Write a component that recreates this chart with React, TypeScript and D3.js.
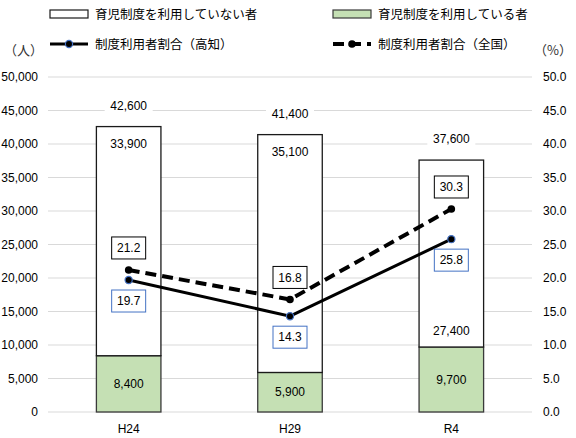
import React, { useRef, useEffect } from 'react';
import * as d3 from 'd3';

// survey years
const categories = ['H24', 'H29', 'R4'];
// total workers (bar height) and the two groups
const totals = [42600, 41400, 37600];
const notUsing = [33900, 35100, 27400];
const using = [8400, 5900, 9700];
// usage rate (%)
const rateKochi = [19.7, 14.3, 25.8];
const rateNational = [21.2, 16.8, 30.3];

const leftTicks = d3.range(0, 50001, 5000);
const rightTicks = d3.range(0, 51, 5);

const legendLabels = [
  '育児制度を利用していない者',
  '育児制度を利用している者',
  '制度利用者割合（高知）',
  '制度利用者割合（全国）',
];

const NUM_FONT = '"Liberation Sans", Arial, sans-serif';
const JP_FONT = '"Noto Sans CJK JP", sans-serif';
const GREEN = '#c5e0b4';
const BLUE = '#4472c4';

const App: React.FC = () => {
  const svgRef = useRef<SVGSVGElement | null>(null);

  useEffect(() => {
    if (!svgRef.current) return;
    d3.select(svgRef.current).selectAll('*').remove();

    const width = 576;
    const height = 438;
    const svg = d3.select(svgRef.current).attr('width', width).attr('height', height);

    const x = d3
      .scaleBand<string>()
      .domain(categories)
      .range([48, 532])
      .paddingInner(0.6)
      .paddingOuter(0.3);
    const y = d3.scaleLinear().domain([0, 50000]).range([412, 77]);
    const yR = d3.scaleLinear().domain([0, 50]).range([412, 77]);
    const cx = (c: string) => (x(c) as number) + x.bandwidth() / 2;
    const fmt = d3.format(',');

    // gridlines
    svg
      .append('g')
      .selectAll('line')
      .data(leftTicks)
      .join('line')
      .attr('x1', 48)
      .attr('x2', 532)
      .attr('y1', (d) => y(d))
      .attr('y2', (d) => y(d))
      .attr('stroke', '#d9d9d9')
      .attr('stroke-width', 1);

    // left axis labels
    svg
      .append('g')
      .selectAll('text')
      .data(leftTicks)
      .join('text')
      .attr('x', 38)
      .attr('y', (d) => y(d))
      .attr('dy', '0.35em')
      .attr('text-anchor', 'end')
      .attr('font-family', NUM_FONT)
      .attr('font-size', 12)
      .attr('fill', '#000')
      .text((d) => fmt(d));

    // right axis labels
    svg
      .append('g')
      .selectAll('text')
      .data(rightTicks)
      .join('text')
      .attr('x', 543)
      .attr('y', (d) => yR(d))
      .attr('dy', '0.35em')
      .attr('font-family', NUM_FONT)
      .attr('font-size', 12)
      .attr('fill', '#000')
      .text((d) => d.toFixed(1));

    // unit labels
    svg
      .append('text')
      .attr('x', 4)
      .attr('y', 55)
      .attr('font-family', JP_FONT)
      .attr('font-size', 13)
      .attr('fill', '#333')
      .text('（人）');
    svg
      .append('text')
      .attr('x', 572)
      .attr('y', 55)
      .attr('text-anchor', 'end')
      .attr('font-family', JP_FONT)
      .attr('font-size', 13)
      .attr('fill', '#333')
      .text('（%）');

    // bars
    const bars = svg.append('g');
    bars
      .selectAll('rect.using')
      .data(categories)
      .join('rect')
      .attr('class', 'using')
      .attr('x', (d) => x(d) as number)
      .attr('width', x.bandwidth())
      .attr('y', (_, i) => y(using[i]))
      .attr('height', (_, i) => y(0) - y(using[i]))
      .attr('fill', GREEN)
      .attr('stroke', '#3a3a3a')
      .attr('stroke-width', 1.3);
    bars
      .selectAll('rect.not')
      .data(categories)
      .join('rect')
      .attr('class', 'not')
      .attr('x', (d) => x(d) as number)
      .attr('width', x.bandwidth())
      .attr('y', (_, i) => y(totals[i]))
      .attr('height', (_, i) => y(using[i]) - y(totals[i]))
      .attr('fill', '#fff')
      .attr('stroke', '#1a1a1a')
      .attr('stroke-width', 1.3);

    // total labels above bars, white background over gridline
    const totalG = svg.append('g');
    categories.forEach((c, i) => {
      const ty = y(totals[i]) - 21;
      totalG
        .append('rect')
        .attr('x', cx(c) - 24)
        .attr('y', ty - 8)
        .attr('width', 48)
        .attr('height', 16)
        .attr('fill', '#fff');
      totalG
        .append('text')
        .attr('x', cx(c))
        .attr('y', ty)
        .attr('dy', '0.35em')
        .attr('text-anchor', 'middle')
        .attr('font-family', NUM_FONT)
        .attr('font-size', 12)
        .text(fmt(totals[i]));
    });

    // not-using labels: near the top, except R4 which sits above the green part
    const atBottom = ['R4'];
    svg
      .append('g')
      .selectAll('text')
      .data(categories)
      .join('text')
      .attr('x', (d) => cx(d))
      .attr('y', (d, i) => (atBottom.includes(d) ? y(using[i]) - 16 : y(totals[i]) + 17))
      .attr('dy', '0.35em')
      .attr('text-anchor', 'middle')
      .attr('font-family', NUM_FONT)
      .attr('font-size', 12)
      .text((_, i) => fmt(notUsing[i]));

    // using labels, centred in green part
    svg
      .append('g')
      .selectAll('text')
      .data(categories)
      .join('text')
      .attr('x', (d) => cx(d))
      .attr('y', (_, i) => (y(using[i]) + y(0)) / 2)
      .attr('dy', '0.35em')
      .attr('text-anchor', 'middle')
      .attr('font-family', NUM_FONT)
      .attr('font-size', 12)
      .text((_, i) => fmt(using[i]));

    // lines
    const line = d3
      .line<number>()
      .x((_, i) => cx(categories[i]))
      .y((d) => yR(d));

    svg
      .append('path')
      .datum(rateNational)
      .attr('d', line)
      .attr('fill', 'none')
      .attr('stroke', '#000')
      .attr('stroke-width', 4)
      .attr('stroke-dasharray', '11,6');
    svg
      .append('path')
      .datum(rateKochi)
      .attr('d', line)
      .attr('fill', 'none')
      .attr('stroke', '#000')
      .attr('stroke-width', 3);

    svg
      .append('g')
      .selectAll('circle')
      .data(rateNational)
      .join('circle')
      .attr('cx', (_, i) => cx(categories[i]))
      .attr('cy', (d) => yR(d))
      .attr('r', 3.8)
      .attr('fill', '#000');
    svg
      .append('g')
      .selectAll('circle')
      .data(rateKochi)
      .join('circle')
      .attr('cx', (_, i) => cx(categories[i]))
      .attr('cy', (d) => yR(d))
      .attr('r', 3.6)
      .attr('fill', '#000')
      .attr('stroke', BLUE)
      .attr('stroke-width', 1.2);

    // rate label boxes
    const drawBox = (vals: number[], dy: number, stroke: string) => {
      const g = svg.append('g');
      vals.forEach((v, i) => {
        const bx = cx(categories[i]);
        const by = yR(v) + dy;
        g.append('rect')
          .attr('x', bx - 17)
          .attr('y', by - 11)
          .attr('width', 34)
          .attr('height', 22)
          .attr('fill', '#fff')
          .attr('stroke', stroke)
          .attr('stroke-width', 1);
        g.append('text')
          .attr('x', bx)
          .attr('y', by)
          .attr('dy', '0.35em')
          .attr('text-anchor', 'middle')
          .attr('font-family', NUM_FONT)
          .attr('font-size', 12)
          .text(v.toFixed(1));
      });
    };
    drawBox(rateNational, -22, '#000');
    drawBox(rateKochi, 21, BLUE);

    // legend
    const legend = svg.append('g').attr('font-family', JP_FONT).attr('font-size', 12.5);
    const cols = [50, 333];
    const rows = [14, 44];
    legendLabels.forEach((label, i) => {
      const lx = cols[i % 2];
      const ly = rows[Math.floor(i / 2)];
      if (i === 0 || i === 1) {
        legend
          .append('rect')
          .attr('x', lx)
          .attr('y', ly - 4)
          .attr('width', 38)
          .attr('height', 8)
          .attr('fill', i === 0 ? '#fff' : GREEN)
          .attr('stroke', i === 0 ? '#1a1a1a' : '#3a3a3a')
          .attr('stroke-width', 1.2);
      } else if (i === 2) {
        legend
          .append('line')
          .attr('x1', lx)
          .attr('x2', lx + 38)
          .attr('y1', ly)
          .attr('y2', ly)
          .attr('stroke', '#000')
          .attr('stroke-width', 3);
        legend
          .append('circle')
          .attr('cx', lx + 19)
          .attr('cy', ly)
          .attr('r', 3.6)
          .attr('fill', '#000')
          .attr('stroke', BLUE)
          .attr('stroke-width', 1.2);
      } else {
        legend
          .append('line')
          .attr('x1', lx)
          .attr('x2', lx + 38)
          .attr('y1', ly)
          .attr('y2', ly)
          .attr('stroke', '#000')
          .attr('stroke-width', 4)
          .attr('stroke-dasharray', '11,6');
        legend
          .append('circle')
          .attr('cx', lx + 19)
          .attr('cy', ly)
          .attr('r', 3.8)
          .attr('fill', '#000');
      }
      legend
        .append('text')
        .attr('x', lx + 45)
        .attr('y', ly)
        .attr('dy', '0.36em')
        .attr('fill', '#000')
        .text(label);
    });

    // x axis labels
    svg
      .append('g')
      .selectAll('text')
      .data(categories)
      .join('text')
      .attr('x', (d) => cx(d))
      .attr('y', 429)
      .attr('dy', '0.35em')
      .attr('text-anchor', 'middle')
      .attr('font-family', NUM_FONT)
      .attr('font-size', 12)
      .text((d) => d);
  }, []);

  return <svg ref={svgRef} style={{ position: 'absolute', left: 0, top: 0 }}></svg>;
};

export default App;
